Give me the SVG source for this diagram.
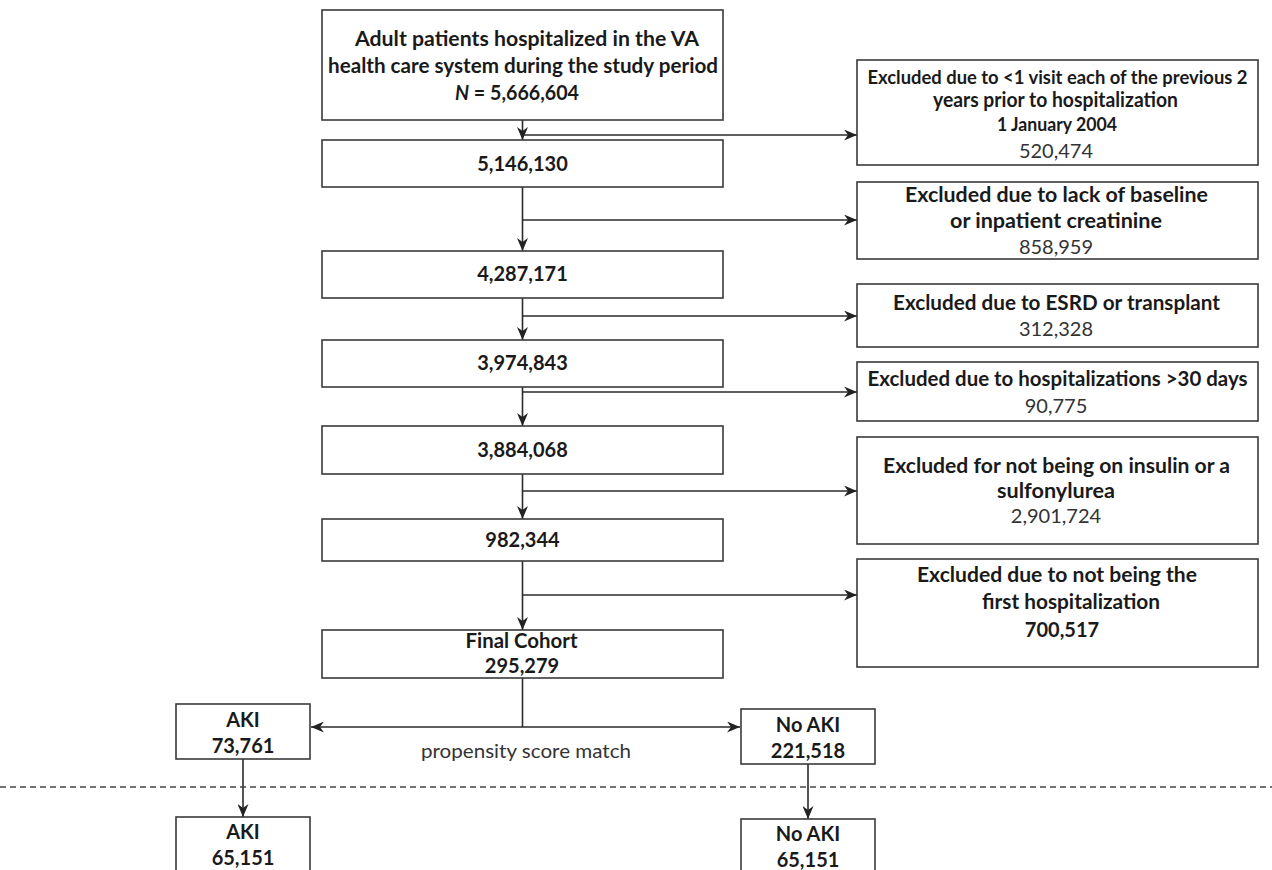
<svg xmlns="http://www.w3.org/2000/svg" width="1272" height="870" viewBox="0 0 1272 870">
<defs>
<marker id="ah" viewBox="0 0 13 11" markerWidth="13" markerHeight="11" refX="13" refY="5.5" orient="auto-start-reverse" markerUnits="userSpaceOnUse">
<path d="M0,0 L13,5.5 L0,11 L4,5.5 Z" fill="#222"/>
</marker>
</defs>
<style>
.box{fill:#fff;stroke:#3a3a3a;stroke-width:1.6}
.t{font-family:Lato,"Liberation Sans",sans-serif;font-size:20px;font-weight:bold;fill:#1a1a1a;text-anchor:middle}
.n{font-family:Lato,"Liberation Sans",sans-serif;font-size:20px;font-weight:normal;fill:#333;text-anchor:middle}
.c{fill:none;stroke:#2a2a2a;stroke-width:1.6}
.d{fill:none;stroke:#444;stroke-width:1.4;stroke-dasharray:6 4}
</style>
<rect width="1272" height="870" fill="#fff"/>

<g id="connectors">
<path class="c" d="M522.5,120 V140" marker-end="url(#ah)"/>
<path class="c" d="M522.5,135 H857" marker-end="url(#ah)"/>
<path class="c" d="M522.5,187 V251" marker-end="url(#ah)"/>
<path class="c" d="M522.5,220 H857" marker-end="url(#ah)"/>
<path class="c" d="M522.5,298 V340" marker-end="url(#ah)"/>
<path class="c" d="M522.5,316 H857" marker-end="url(#ah)"/>
<path class="c" d="M522.5,387 V426" marker-end="url(#ah)"/>
<path class="c" d="M522.5,392 H857" marker-end="url(#ah)"/>
<path class="c" d="M522.5,474 V519" marker-end="url(#ah)"/>
<path class="c" d="M522.5,491 H857" marker-end="url(#ah)"/>
<path class="c" d="M522.5,561 V630" marker-end="url(#ah)"/>
<path class="c" d="M522.5,595 H857" marker-end="url(#ah)"/>
<path class="c" d="M522.5,678 V727"/>
<path class="c" d="M311,727 H740" marker-start="url(#ah)" marker-end="url(#ah)"/>
<path class="c" d="M243,759 V817" marker-end="url(#ah)"/>
<path class="c" d="M808,764 V819" marker-end="url(#ah)"/>
<path class="d" d="M0,787 H1272"/>
</g>

<g id="n-start">
<rect class="box" x="322" y="10" width="401" height="110"/>
<text class="t" x="527" y="46" textLength="344" lengthAdjust="spacingAndGlyphs">Adult patients hospitalized in the VA</text>
<text class="t" x="523" y="73" textLength="390" lengthAdjust="spacingAndGlyphs">health care system during the study period</text>
<text class="t" x="517" y="100" textLength="124" lengthAdjust="spacingAndGlyphs"><tspan font-style="italic">N</tspan> = 5,666,604</text>
</g>

<g id="n-5146130">
<rect class="box" x="322" y="140" width="401" height="47"/>
<text class="t" x="522.5" y="171">5,146,130</text>
</g>
<g id="n-4287171">
<rect class="box" x="322" y="251" width="401" height="47"/>
<text class="t" x="522.5" y="281">4,287,171</text>
</g>
<g id="n-3974843">
<rect class="box" x="322" y="340" width="401" height="47"/>
<text class="t" x="522.5" y="370">3,974,843</text>
</g>
<g id="n-3884068">
<rect class="box" x="322" y="426" width="401" height="48"/>
<text class="t" x="522.5" y="457">3,884,068</text>
</g>
<g id="n-982344">
<rect class="box" x="322" y="519" width="401" height="42"/>
<text class="t" x="522.5" y="547">982,344</text>
</g>
<g id="n-final">
<rect class="box" x="322" y="630" width="401" height="48"/>
<text class="t" x="521.5" y="648" textLength="112" lengthAdjust="spacingAndGlyphs">Final Cohort</text>
<text class="t" x="522" y="673">295,279</text>
</g>

<g id="x-visits">
<rect class="box" x="857" y="60" width="401" height="105"/>
<text class="t" x="1057.5" y="84" style="font-size:19px" textLength="380" lengthAdjust="spacingAndGlyphs">Excluded due to &lt;1 visit each of the previous 2</text>
<text class="t" x="1055.5" y="107" textLength="245" lengthAdjust="spacingAndGlyphs">years prior to hospitalization</text>
<text class="t" x="1057" y="131" style="font-size:18.5px" textLength="120" lengthAdjust="spacingAndGlyphs">1 January 2004</text>
<text class="n" x="1056" y="158">520,474</text>
</g>
<g id="x-creatinine">
<rect class="box" x="857" y="182" width="401" height="77"/>
<text class="t" x="1056.5" y="202" textLength="303" lengthAdjust="spacingAndGlyphs">Excluded due to lack of baseline</text>
<text class="t" x="1056" y="228" textLength="212" lengthAdjust="spacingAndGlyphs">or inpatient creatinine</text>
<text class="n" x="1056" y="254">858,959</text>
</g>
<g id="x-esrd">
<rect class="box" x="857" y="284" width="401" height="63"/>
<text class="t" x="1056.5" y="310" textLength="327" lengthAdjust="spacingAndGlyphs">Excluded due to ESRD or transplant</text>
<text class="n" x="1056" y="336">312,328</text>
</g>
<g id="x-30days">
<rect class="box" x="857" y="362" width="401" height="59"/>
<text class="t" x="1057.5" y="386" textLength="380" lengthAdjust="spacingAndGlyphs">Excluded due to hospitalizations &gt;30 days</text>
<text class="n" x="1056" y="413">90,775</text>
</g>
<g id="x-insulin">
<rect class="box" x="857" y="437" width="401" height="107"/>
<text class="t" x="1056.5" y="473" textLength="347" lengthAdjust="spacingAndGlyphs">Excluded for not being on insulin or a</text>
<text class="t" x="1056" y="498" textLength="118" lengthAdjust="spacingAndGlyphs">sulfonylurea</text>
<text class="n" x="1056" y="523">2,901,724</text>
</g>
<g id="x-first">
<rect class="box" x="857" y="559" width="401" height="108"/>
<text class="t" x="1057" y="582" textLength="280" lengthAdjust="spacingAndGlyphs">Excluded due to not being the</text>
<text class="t" x="1071" y="609" textLength="178" lengthAdjust="spacingAndGlyphs">first hospitalization</text>
<text class="t" x="1062" y="637">700,517</text>
</g>

<g id="n-aki">
<rect class="box" x="176" y="704" width="134" height="55"/>
<text class="t" x="243" y="727">AKI</text>
<text class="t" x="243" y="753">73,761</text>
</g>
<g id="n-noaki">
<rect class="box" x="741" y="709" width="134" height="55"/>
<text class="t" x="808" y="732">No AKI</text>
<text class="t" x="808" y="758">221,518</text>
</g>
<text class="n" x="526" y="758" style="font-size:18.5px" textLength="210" lengthAdjust="spacingAndGlyphs">propensity score match</text>

<g id="n-aki-matched">
<rect class="box" x="176" y="817" width="134" height="70"/>
<text class="t" x="243" y="839">AKI</text>
<text class="t" x="243" y="865">65,151</text>
</g>
<g id="n-noaki-matched">
<rect class="box" x="741" y="819" width="134" height="70"/>
<text class="t" x="808" y="841">No AKI</text>
<text class="t" x="808" y="867">65,151</text>
</g>
</svg>
